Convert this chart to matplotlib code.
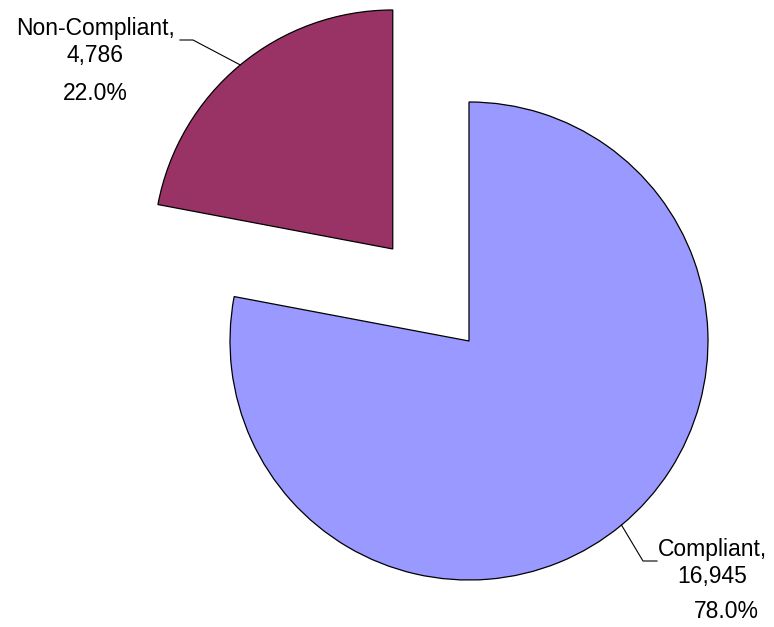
import numpy as np
import matplotlib.pyplot as plt

plt.rcParams['font.family'] = ['Liberation Sans', 'DejaVu Sans']

# Compliance counts
names = ['Compliant', 'Non-Compliant']
counts = [16945, 4786]
colors = ['#9999FF', '#993366']
explode = [0, 0.5]

W, H = 774, 627
fig = plt.figure(figsize=(W / 100, H / 100), dpi=100)
ax = fig.add_axes([0, 0, 1, 1])

radius = 239
center = (469, H - 341)
# pie's explode offset is absolute, so scale it by the radius
wedges, _ = ax.pie(counts, startangle=90, counterclock=False,
                   explode=[e * radius for e in explode],
                   colors=colors, radius=radius, center=center,
                   wedgeprops=dict(edgecolor='black', linewidth=0.9))
ax.set_xlim(0, W)
ax.set_ylim(0, H)
ax.set_aspect('equal')
ax.axis('off')

total = sum(counts)
pcts = [c / total * 100 for c in counts]

# label text position, percent position, elbow of leader, end of leader (px from top-left)
label_pos = {
    'Non-Compliant': dict(txt=(95, 42), pct=(95, 94), elbow=(193, 40), end=(180, 40)),
    'Compliant': dict(txt=(712, 563), pct=(726, 612), elbow=(643, 561), end=(657, 561)),
}

for w, name, c, p in zip(wedges, names, counts, pcts):
    lp = label_pos[name]
    mid = np.deg2rad((w.theta1 + w.theta2) / 2)
    cx, cy = w.center
    rim = (cx + w.r * np.cos(mid), cy + w.r * np.sin(mid))
    xs = [rim[0], lp['elbow'][0], lp['end'][0]]
    ys = [rim[1], H - lp['elbow'][1], H - lp['end'][1]]
    ax.plot(xs, ys, color='black', linewidth=0.8)
    ax.text(lp['txt'][0], H - lp['txt'][1], f'{name},\n{c:,}', ha='center', va='center',
            fontsize=16.5, linespacing=1.2)
    ax.text(lp['pct'][0], H - lp['pct'][1], f'{p:.1f}%', ha='center', va='center',
            fontsize=16.5)

fig.savefig('out.png', dpi=100)
